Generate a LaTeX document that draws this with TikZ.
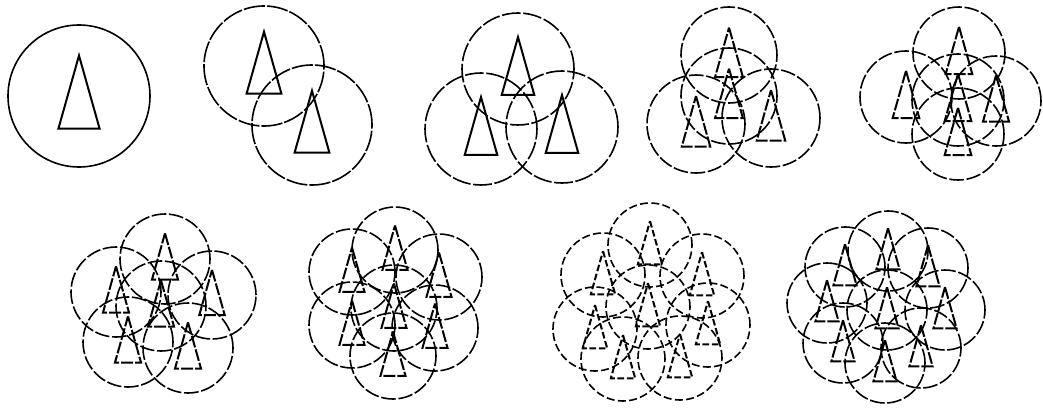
\documentclass[tikz,border=0pt]{standalone}
\begin{document}
\begin{tikzpicture}[x=0.75pt,y=-0.75pt,
  ring/.style={draw=black,line width=1.2pt},
  ant/.style={draw=black,line width=1.5pt,line join=miter},
  broken/.style={ring/.append style={dash pattern=on 11pt off 2pt},ant/.append style={dash pattern=on 9pt off 1.5pt}},
  veryb/.style={ring/.append style={dash pattern=on 6pt off 2.5pt},ant/.append style={dash pattern=on 5pt off 2pt}},
  cell/.pic={
    \draw[ring] (0,0) circle[radius=#1*0.75pt];
    \draw[ant] (0,{-0.57*#1}) -- ({0.29*#1},{0.46*#1}) -- ({-0.29*#1},{0.46*#1}) -- cycle;
  }]
\useasboundingbox (0,0) rectangle (1043,410);
% 1
\pic at (79,96) {cell=71};
% 2
\begin{scope}[ring/.append style={dash pattern=on 16pt off 1.5pt}]
\pic at (264,66) {cell=60};
\pic at (312,125) {cell=60};
\end{scope}
% 3
\begin{scope}[ring/.append style={dash pattern=on 14pt off 2pt}]
\pic at (518,69) {cell=56};
\pic at (481,129) {cell=56};
\pic at (562,127) {cell=56};
\end{scope}
% 4
\begin{scope}[broken]
\pic at (729,55) {cell=48};
\pic at (696,124) {cell=49};
\pic at (771,118) {cell=49};
\pic at (729,96) {cell=48};
\end{scope}
% 5
\begin{scope}[broken]
\pic at (959,53) {cell=46};
\pic at (906,97) {cell=46};
\pic at (996,101) {cell=45};
\pic at (958,134) {cell=46};
\pic at (958,100) {cell=46};
\end{scope}
% 6
\begin{scope}[broken]
\pic at (165,259) {cell=45};
\pic at (116,292) {cell=45};
\pic at (212,295) {cell=44};
\pic at (161,306) {cell=45};
\pic at (128,342) {cell=45};
\pic at (188,348) {cell=45};
\end{scope}
% 7
\begin{scope}[broken]
\pic at (395,250) {cell=43};
\pic at (352,272) {cell=43};
\pic at (439,277) {cell=43};
\pic at (352,325) {cell=43};
\pic at (435,328) {cell=43};
\pic at (393,356) {cell=43};
\pic at (394,308) {cell=43};
\end{scope}
% 8
\begin{scope}[veryb]
\pic at (650,245) {cell=42};
\pic at (603,275) {cell=42};
\pic at (702,276) {cell=42};
\pic at (595,329) {cell=42};
\pic at (648,307) {cell=42};
\pic at (708,325) {cell=42};
\pic at (623,359) {cell=42};
\pic at (680,358) {cell=42};
\end{scope}
% 9
\begin{scope}[broken]
\pic at (888,251) {cell=40};
\pic at (845,267) {cell=40};
\pic at (928,268) {cell=40};
\pic at (827,303) {cell=40};
\pic at (887,310) {cell=40};
\pic at (945,310) {cell=40};
\pic at (843,343) {cell=40};
\pic at (885,363) {cell=40};
\pic at (921,348) {cell=40};
\end{scope}
\end{tikzpicture}
\end{document}
